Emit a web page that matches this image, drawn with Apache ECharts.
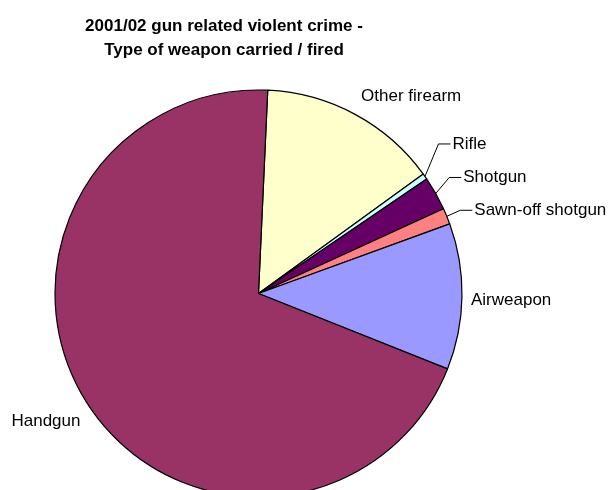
<!DOCTYPE html>
<html>
<head>
<meta charset="utf-8">
<script src="https://cdn.jsdelivr.net/npm/echarts@6/dist/echarts.min.js"></script>
<style>
html,body{margin:0;padding:0;background:#fff;}
#chart{width:608px;height:490px;}
</style>
</head>
<body>
<div id="chart"></div>
<script>
// Data (percent share), in clockwise order starting near 12 o'clock
const categories = ['Other firearm', 'Rifle', 'Shotgun', 'Sawn-off shotgun', 'Airweapon', 'Handgun'];
const values = [14.3, 0.46, 2.69, 1.28, 11.6, 69.7];
const colors = ['#FFFFCC', '#CCFFFF', '#660066', '#FF8080', '#9999FF', '#993366'];
const titleLines = ['2001/02 gun related violent crime -', 'Type of weapon carried / fired'];

// label placement relative to slice anchor point (layout only)
const labelOffsets = [
  {dx: 6, dy: -18, align: 'left', line: false},
  {dx: 13.5, dy: -32.5, len2: 12, align: 'left', line: true},
  {dx: 13.5, dy: -16, len2: 12, align: 'left', line: true},
  {dx: 13.5, dy: -6, len2: 12, align: 'left', line: true},
  {dx: 9, dy: 3.5, align: 'left', line: false},
  {dx: -7, dy: 18, align: 'right', line: false}
];

const chart = echarts.init(document.getElementById('chart'), null, {renderer: 'canvas'});
const data = categories.map((c, i) => ({
  name: c,
  value: values[i],
  itemStyle: {color: colors[i]},
  labelLine: {show: labelOffsets[i].line}
}));

chart.setOption({
  animation: false,
  backgroundColor: '#ffffff',
  title: {
    text: titleLines.join('\n'),
    left: 219,
    top: 9,
    textAlign: 'center',
    textStyle: {
      fontFamily: 'Liberation Sans, Arial, sans-serif',
      fontSize: 17,
      fontWeight: 'bold',
      color: '#000',
      lineHeight: 24
    }
  },
  series: [{
    type: 'pie',
    center: [258.5, 293.5],
    radius: 203.5,
    startAngle: 87.4,
    clockwise: true,
    avoidLabelOverlap: false,
    data: data,
    itemStyle: {borderColor: '#000', borderWidth: 1.2},
    emphasis: {disabled: true},
    label: {
      show: true,
      position: 'outside',
      formatter: '{b}',
      fontFamily: 'Liberation Sans, Arial, sans-serif',
      fontSize: 17,
      color: '#000'
    },
    labelLine: {
      show: true,
      length: 20,
      length2: 10,
      smooth: false,
      lineStyle: {color: '#000', width: 1}
    },
    labelLayout: function (params) {
      const o = labelOffsets[params.dataIndex];
      const pts = params.labelLinePoints;
      if (!pts) return {};
      const a = pts[0];
      const p1 = [a[0] + o.dx, a[1] + o.dy];
      const res = {
        x: p1[0] + (o.len2 ? o.len2 + 2 : 0),
        y: p1[1],
        align: o.align,
        verticalAlign: 'middle'
      };
      if (o.line) {
        res.labelLinePoints = [a, p1, [p1[0] + o.len2, p1[1]]];
      }
      return res;
    }
  }]
});
</script>
</body>
</html>
